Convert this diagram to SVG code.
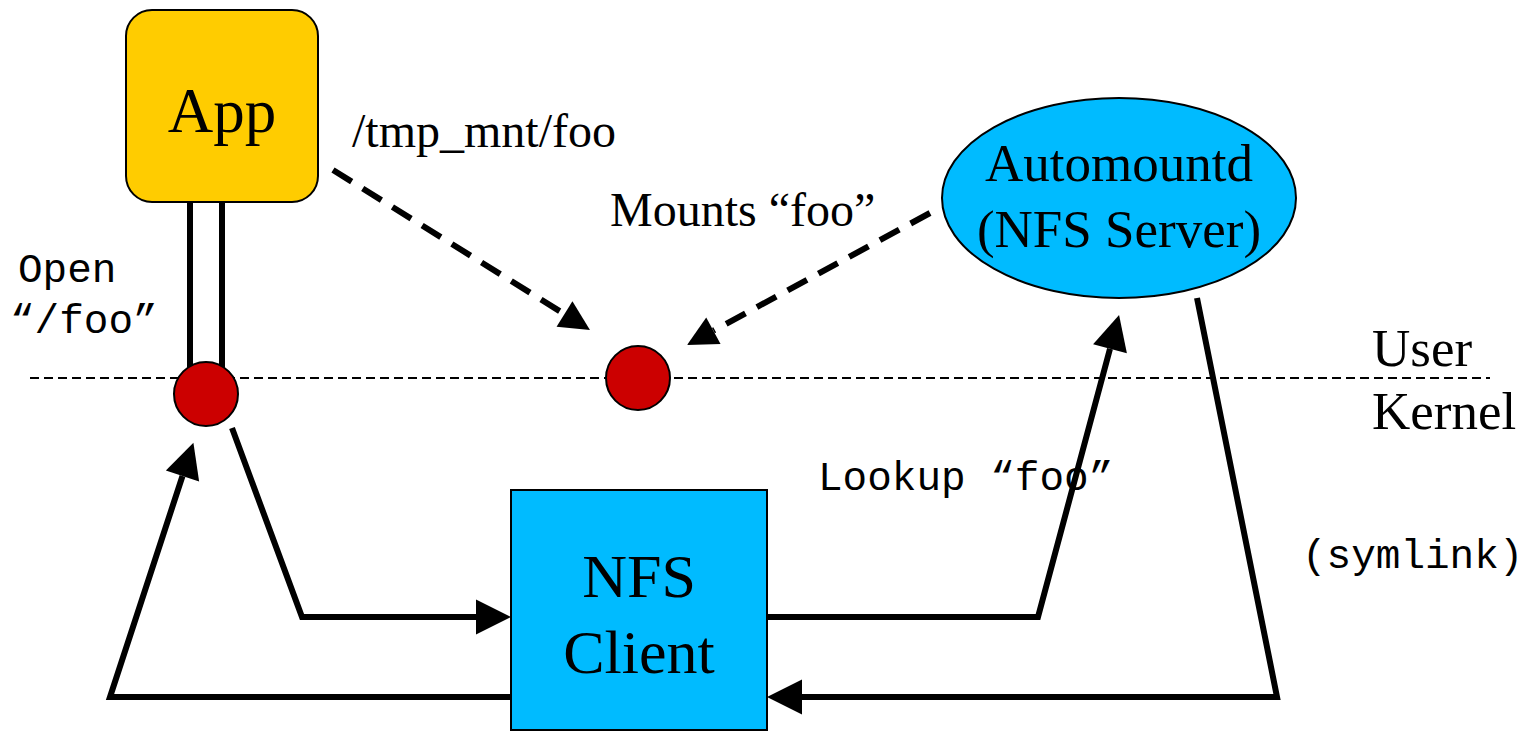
<svg xmlns="http://www.w3.org/2000/svg" width="1522" height="735" viewBox="0 0 1522 735">
  <style>
    .serif { font-family: "Liberation Serif", "Times New Roman", serif; fill: #000; }
    .mono { font-family: "Liberation Mono", "Courier New", monospace; fill: #000; font-size: 41px; }
    .solid { fill: none; stroke: #000; stroke-width: 6; stroke-linejoin: miter; }
    .dash { fill: none; stroke: #000; stroke-width: 6; stroke-dasharray: 22 13; }
    .dot { fill: #CC0000; stroke: #000; stroke-width: 2; }
    .blue { fill: #00BBFF; stroke: #000; stroke-width: 2; }
  </style>
  <defs>
    <marker id="ah" markerUnits="userSpaceOnUse" markerWidth="36" markerHeight="36" refX="0" refY="17.5" orient="auto" overflow="visible">
      <path d="M0,0 L35,17.5 L0,35 z" fill="#000"/>
    </marker>
    <marker id="ahd" markerUnits="userSpaceOnUse" markerWidth="32" markerHeight="32" refX="0" refY="15" orient="auto" overflow="visible">
      <path d="M0,0 L30,15 L0,30 z" fill="#000"/>
    </marker>
  </defs>

  <!-- user/kernel boundary -->
  <line x1="30" y1="378" x2="1490" y2="378" stroke="#000" stroke-width="2" stroke-dasharray="9 5"/>
  <text class="serif" x="1372" y="366" font-size="53">User</text>
  <text class="serif" x="1372" y="429" font-size="53">Kernel</text>

  <g id="connectors">
    <!-- App double line to open point -->
    <line x1="190" y1="202" x2="190" y2="375" stroke="#000" stroke-width="6"/>
    <line x1="222" y1="202" x2="222" y2="375" stroke="#000" stroke-width="6"/>
    <!-- dashed: app to mount point -->
    <path class="dash" d="M333,170 L564.5,314.1" marker-end="url(#ahd)"/>
    <!-- dashed: automountd to mount point -->
    <path class="dash" d="M930,213 L713.4,330.7" marker-end="url(#ahd)"/>
    <!-- open point to NFS client -->
    <path class="solid" d="M232,428 L302,617 L476,617" marker-end="url(#ah)"/>
    <!-- NFS client back to open point -->
    <path class="solid" d="M511,697 L110,697 L182.5,476" marker-end="url(#ah)"/>
    <!-- NFS client to automountd (lookup) -->
    <path class="solid" d="M767,617 L1038,617 L1110,348.8" marker-end="url(#ah)"/>
    <!-- automountd back to NFS client (symlink) -->
    <path class="solid" d="M1197,298 L1277,697 L802,697" marker-end="url(#ah)"/>
  </g>

  <g id="app">
    <rect x="126" y="10" width="192" height="192" rx="26" ry="26" fill="#FFCC00" stroke="#000" stroke-width="2"/>
    <text class="serif" x="222" y="132" font-size="63" text-anchor="middle">App</text>
  </g>

  <g id="open-point">
    <circle class="dot" cx="206" cy="394" r="32"/>
  </g>

  <g id="mount-point">
    <circle class="dot" cx="638" cy="378" r="32"/>
  </g>

  <g id="automountd">
    <ellipse class="blue" cx="1119" cy="198" rx="177" ry="100"/>
    <text class="serif" x="1119" y="181" font-size="53" text-anchor="middle">Automountd</text>
    <text class="serif" x="1119" y="247" font-size="53" text-anchor="middle">(NFS Server)</text>
  </g>

  <g id="nfs-client">
    <rect class="blue" x="511" y="490" width="256" height="240"/>
    <text class="serif" x="639" y="597" font-size="62" text-anchor="middle">NFS</text>
    <text class="serif" x="639" y="673" font-size="62" text-anchor="middle">Client</text>
  </g>

  <g id="labels">
    <text class="serif" x="352" y="147" font-size="48">/tmp_mnt/foo</text>
    <text class="serif" x="610" y="226" font-size="48">Mounts “foo”</text>
    <text class="mono" x="18" y="282">Open</text>
    <text class="mono" x="10" y="333">“/foo”</text>
    <text class="mono" x="818" y="490">Lookup “foo”</text>
    <text class="mono" x="1302" y="568">(symlink)</text>
  </g>
</svg>
